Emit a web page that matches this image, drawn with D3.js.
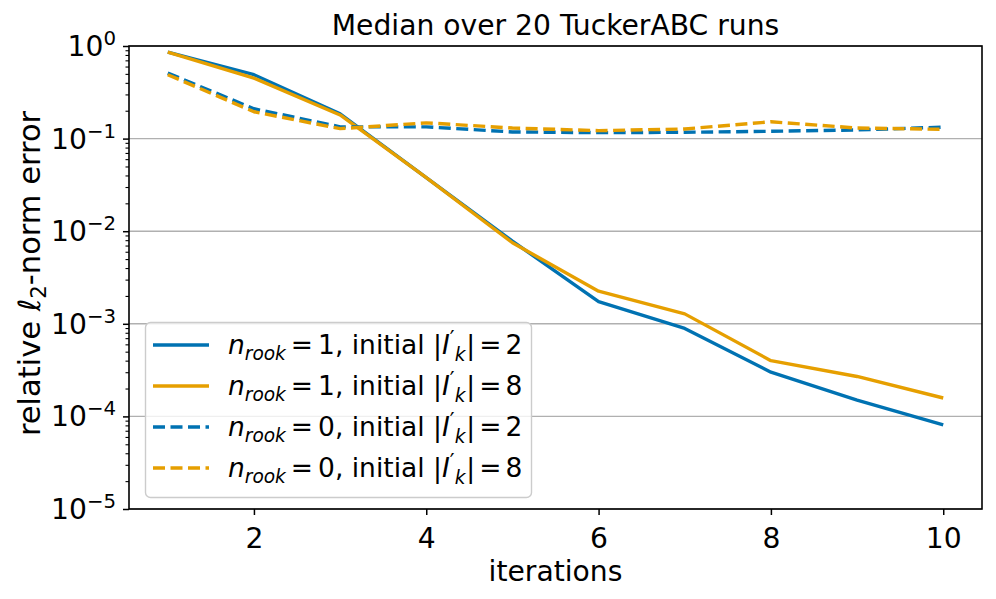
<!DOCTYPE html>
<html>
<head>
<meta charset="utf-8">
<script src="https://cdn.jsdelivr.net/npm/d3@7"></script>
<style>
  html, body { margin: 0; padding: 0; background: #fff; }
  svg { display: block; font-family: "DejaVu Sans", sans-serif; }
</style>
</head>
<body>
<svg id="chart" width="996" height="599"></svg>
<script>
// ---- data ----
const iterations = [1, 2, 3, 4, 5, 6, 7, 8, 9, 10];
const rook1_init2 = [0.86, 0.49, 0.185, 0.038, 0.0078, 0.00174, 0.00089, 0.00030, 0.000150, 0.000081];
const rook1_init8 = [0.86, 0.45, 0.180, 0.038, 0.0075, 0.00225, 0.00128, 0.00040, 0.000270, 0.000158];
const rook0_init2 = [0.51, 0.21, 0.134, 0.134, 0.118, 0.116, 0.117, 0.120, 0.124, 0.133];
const rook0_init8 = [0.49, 0.195, 0.128, 0.148, 0.130, 0.122, 0.127, 0.152, 0.130, 0.126];
const xTicks = [2, 4, 6, 8, 10];
const yTickExps = [0, -1, -2, -3, -4, -5];
const legendRook = ["1", "1", "0", "0"];
const legendInit = ["2", "8", "2", "8"];
const titleText = "Median over 20 TuckerABC runs";
const xLabel = "iterations";

const BLUE = "#0072B2", ORANGE = "#E69F00";
const series = [
  { values: rook1_init2, color: BLUE, dash: null },
  { values: rook1_init8, color: ORANGE, dash: null },
  { values: rook0_init2, color: BLUE, dash: "12,5.5" },
  { values: rook0_init8, color: ORANGE, dash: "12,5.5" }
];

const svg = d3.select("#chart");
const L = 129, R = 982, T = 46, B = 509;
const FS = 28.2;

const x = d3.scaleLinear().domain([0.55, 10.45]).range([L, R]);
const y = d3.scaleLog().domain([1e-5, 1]).range([B, T]);

// grid
svg.append("g").selectAll("line").data(yTickExps).join("line")
  .attr("x1", L).attr("x2", R)
  .attr("y1", d => y(Math.pow(10, d))).attr("y2", d => y(Math.pow(10, d)))
  .attr("stroke", "#b0b0b0").attr("stroke-width", 1.4);

// lines
const line = d3.line().x((d, i) => x(iterations[i])).y(d => y(d));
svg.append("g").selectAll("path").data(series).join("path")
  .attr("d", d => line(d.values))
  .attr("fill", "none")
  .attr("stroke", d => d.color)
  .attr("stroke-width", 3.4)
  .attr("stroke-linejoin", "round")
  .attr("stroke-dasharray", d => d.dash);

// x axis
const xAxis = d3.axisBottom(x).tickValues(xTicks).tickSize(6).tickPadding(6).tickFormat(d3.format("d"));
const gx = svg.append("g").attr("transform", `translate(0,${B})`).call(xAxis);
gx.select(".domain").remove();
gx.selectAll(".tick line").attr("stroke", "#000").attr("stroke-width", 1.5);
gx.selectAll(".tick text").attr("font-size", FS).attr("font-family", "DejaVu Sans").attr("fill", "#000")
  .attr("dy", null).attr("y", 39);

// y axis major/minor ticks
const minor = [];
for (let e = -5; e < 0; e++) for (let m = 2; m <= 9; m++) minor.push(m * Math.pow(10, e));
const yAxisMinor = d3.axisLeft(y).tickValues(minor).tickSize(3.5).tickFormat("");
const gym = svg.append("g").attr("transform", `translate(${L},0)`).call(yAxisMinor);
gym.select(".domain").remove();
gym.selectAll(".tick line").attr("stroke", "#000").attr("stroke-width", 1.1);

const yAxis = d3.axisLeft(y).tickValues(yTickExps.map(e => Math.pow(10, e))).tickSize(6).tickFormat("");
const gy = svg.append("g").attr("transform", `translate(${L},0)`).call(yAxis);
gy.select(".domain").remove();
gy.selectAll(".tick line").attr("stroke", "#000").attr("stroke-width", 1.5);

// y tick labels (10^k)
const yl = svg.append("g").selectAll("text").data(yTickExps).join("text")
  .attr("x", 116).attr("y", d => y(Math.pow(10, d)) + 10)
  .attr("text-anchor", "end").attr("font-size", FS).attr("fill", "#000");
yl.append("tspan").text("10");
yl.append("tspan").attr("dy", -11).attr("font-size", FS * 0.7)
  .text(d => d === 0 ? "0" : "\u2212" + Math.abs(d));

// spines
svg.append("rect").attr("x", L).attr("y", T).attr("width", R - L).attr("height", B - T)
  .attr("fill", "none").attr("stroke", "#000").attr("stroke-width", 1.6);

// title
svg.append("text").attr("x", (L + R) / 2).attr("y", 35).attr("text-anchor", "middle")
  .attr("font-size", FS).attr("fill", "#000").text(titleText);

// x label
svg.append("text").attr("x", (L + R) / 2).attr("y", 581).attr("text-anchor", "middle")
  .attr("font-size", FS).attr("fill", "#000").text(xLabel);

// y label
const YFS = 30.5;
const ylab = svg.append("text").attr("transform", `translate(40,${(T + B) / 2 - 4}) rotate(-90)`)
  .attr("text-anchor", "middle").attr("font-size", YFS).attr("fill", "#000");
ylab.append("tspan").text("relative ");
ylab.append("tspan").attr("font-style", "italic").text("\u2113");
ylab.append("tspan").attr("font-size", YFS * 0.7).attr("dy", 6).text("2");
ylab.append("tspan").attr("dy", -6).text("-norm error");

// legend
const lg = svg.append("g");
lg.append("rect").attr("x", 145.5).attr("y", 322.5).attr("width", 386).attr("height", 175)
  .attr("rx", 5).attr("fill", "#fff").attr("fill-opacity", 0.8)
  .attr("stroke", "#cccccc").attr("stroke-width", 1.4);
const rowY = [345, 386, 427, 468];
const LFS = 26.5;
series.forEach((s, i) => {
  lg.append("line").attr("x1", 153).attr("x2", 209).attr("y1", rowY[i]).attr("y2", rowY[i])
    .attr("stroke", s.color).attr("stroke-width", 3.4).attr("stroke-dasharray", s.dash);
  const t = lg.append("text").attr("x", 228).attr("y", rowY[i] + 9).attr("font-size", LFS).attr("fill", "#000");
  t.append("tspan").attr("font-style", "italic").text("n");
  t.append("tspan").attr("font-style", "italic").attr("font-size", LFS * 0.7).attr("dy", 6).text("rook");
  t.append("tspan").attr("dy", -6).attr("dx", 5).text("=");
  t.append("tspan").attr("dx", 5).text(legendRook[i] + ", initial |");
  t.append("tspan").attr("font-style", "italic").text("I");
  t.append("tspan").attr("font-size", LFS * 0.8).attr("dy", -8).text("\u2032");
  t.append("tspan").attr("font-style", "italic").attr("font-size", LFS * 0.7).attr("dy", 15).text("k");
  t.append("tspan").attr("dy", -7).attr("dx", 1).text("|");
  t.append("tspan").attr("dx", 4).text("=");
  t.append("tspan").attr("dx", 4).text(legendInit[i]);
});
</script>
</body>
</html>
